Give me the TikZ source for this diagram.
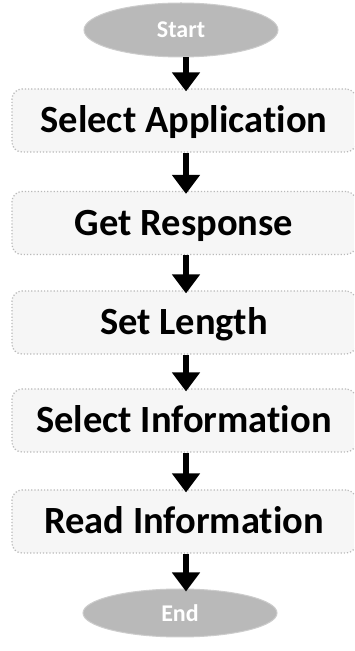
\documentclass[tikz,border=0pt]{standalone}
\usepackage{fontspec}
\setmainfont[Ligatures={NoCommon,NoContextual}]{Carlito}
\usetikzlibrary{shapes.geometric,arrows.meta}
\tikzset{
  x=1pt,y=1pt,
  stepbox/.style={draw=gray!55, dotted, line width=1.2pt, fill=gray!7, rounded corners=10pt,
    minimum width=344pt, minimum height=63pt, inner sep=0pt, text height=25pt, text depth=0pt,
    font=\fontsize{38.5}{42}\selectfont\bfseries, text=black},
  term/.style={ellipse, draw=gray!40, line width=1pt, fill=gray!55, minimum width=194pt,
    inner sep=0pt, font=\fontsize{24}{28}\selectfont\bfseries, text=white},
  flow/.style={draw=black, line width=6pt, -{Triangle[width=27pt,length=19pt]}, shorten >=-3pt}
}
\begin{document}
\begin{tikzpicture}
\useasboundingbox (0,0) rectangle (354,651);
\clip (0,0) rectangle (354,651);
\fill[white] (0,0) rectangle (354,651);
\node[term, minimum height=54pt] (start) at (181,621) {Start};
\node[stepbox] (a) at (184,530.5) {Select Application};
\node[stepbox] (b) at (184,428) {Get Response};
\node[stepbox] (c) at (184,328.5) {Set Length};
\node[stepbox] (d) at (184,230.5) {Select Information};
\node[stepbox] (e) at (184,129.5) {Read Information};
\node[term, minimum height=48pt] (end) at (180,38) {End};
\draw[flow] (start.south -| 186,0) -- (a.north -| 186,0);
\draw[flow] (a.south -| 186,0) -- (b.north -| 186,0);
\draw[flow] (b.south -| 186,0) -- (c.north -| 186,0);
\draw[flow] (c.south -| 186,0) -- (d.north -| 186,0);
\draw[flow] (d.south -| 186,0) -- (e.north -| 186,0);
\draw[flow] (e.south -| 186,0) -- (end.north -| 186,0);
\end{tikzpicture}
\end{document}
